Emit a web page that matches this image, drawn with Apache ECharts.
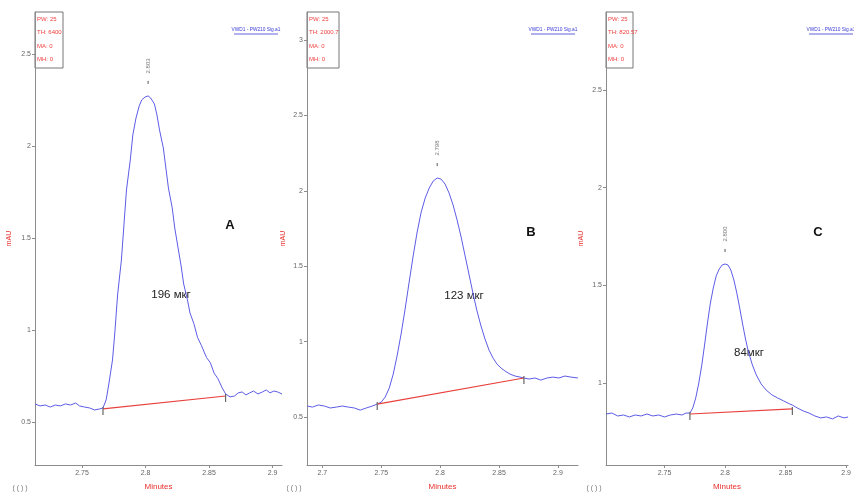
<!DOCTYPE html>
<html><head><meta charset="utf-8">
<script src="https://cdn.jsdelivr.net/npm/echarts@6/dist/echarts.min.js"></script>
<style>html,body{margin:0;padding:0;background:#fff}#c{width:854px;height:497px}</style>
</head><body><div id="c"></div>
<script>
// ---------- data (minutes, mAU) ----------
const traceA = [[2.713,0.598],[2.717,0.587],[2.721,0.592],[2.725,0.581],[2.729,0.592],[2.733,0.587],[2.737,0.598],[2.741,0.592],[2.745,0.603],[2.748,0.587],[2.752,0.581],[2.756,0.576],[2.760,0.565],[2.764,0.571],[2.7665,0.576],[2.769,0.620],[2.771,0.701],[2.774,0.837],[2.776,1.000],[2.778,1.190],[2.781,1.380],[2.783,1.571],[2.785,1.761],[2.788,1.924],[2.790,2.060],[2.7925,2.152],[2.795,2.217],[2.797,2.250],[2.7996,2.266],[2.802,2.272],[2.804,2.261],[2.807,2.228],[2.809,2.168],[2.811,2.087],[2.814,1.989],[2.816,1.880],[2.818,1.772],[2.821,1.663],[2.823,1.554],[2.8256,1.446],[2.828,1.348],[2.830,1.250],[2.833,1.163],[2.835,1.092],[2.838,1.035],[2.841,0.958],[2.844,0.915],[2.848,0.850],[2.851,0.822],[2.854,0.765],[2.857,0.735],[2.860,0.690],[2.863,0.652],[2.8665,0.636],[2.870,0.641],[2.873,0.658],[2.876,0.663],[2.879,0.647],[2.882,0.658],[2.885,0.668],[2.8885,0.652],[2.892,0.663],[2.895,0.674],[2.898,0.658],[2.901,0.668],[2.904,0.663],[2.9074,0.652]];
const traceB = [[2.6873,0.573],[2.6916,0.566],[2.6967,0.580],[2.7017,0.573],[2.7068,0.560],[2.7119,0.566],[2.7170,0.573],[2.7221,0.566],[2.7272,0.560],[2.7322,0.546],[2.7373,0.560],[2.7424,0.573],[2.7466,0.586],[2.7500,0.599],[2.7534,0.633],[2.7568,0.692],[2.7602,0.785],[2.7636,0.911],[2.7670,1.057],[2.7704,1.223],[2.7737,1.395],[2.7771,1.568],[2.7805,1.727],[2.7839,1.859],[2.7873,1.952],[2.7907,2.018],[2.7941,2.065],[2.7975,2.085],[2.8008,2.078],[2.8042,2.045],[2.8076,1.985],[2.8110,1.906],[2.8144,1.806],[2.8178,1.694],[2.8212,1.568],[2.8246,1.442],[2.8280,1.316],[2.8313,1.203],[2.8347,1.103],[2.8381,1.017],[2.8415,0.944],[2.8449,0.891],[2.8483,0.851],[2.8517,0.825],[2.8551,0.805],[2.8593,0.785],[2.8635,0.772],[2.8678,0.765],[2.8711,0.759],[2.8754,0.752],[2.8805,0.759],[2.8855,0.745],[2.8906,0.759],[2.8957,0.765],[2.9008,0.759],[2.9059,0.772],[2.9110,0.765],[2.9169,0.759]];
const traceC = [[2.7017,0.841],[2.7065,0.846],[2.7113,0.831],[2.7162,0.836],[2.7210,0.826],[2.7258,0.836],[2.7307,0.831],[2.7355,0.841],[2.7404,0.831],[2.7452,0.836],[2.7500,0.826],[2.7549,0.836],[2.7597,0.841],[2.7645,0.836],[2.7678,0.846],[2.7710,0.846],[2.7734,0.872],[2.7758,0.923],[2.7782,0.995],[2.7807,1.087],[2.7831,1.194],[2.7855,1.307],[2.7879,1.409],[2.7903,1.486],[2.7927,1.548],[2.7952,1.583],[2.7976,1.604],[2.8000,1.609],[2.8024,1.604],[2.8048,1.578],[2.8073,1.527],[2.8097,1.461],[2.8121,1.384],[2.8145,1.302],[2.8169,1.225],[2.8193,1.159],[2.8226,1.092],[2.8258,1.041],[2.8298,0.995],[2.8339,0.964],[2.8387,0.939],[2.8435,0.923],[2.8484,0.908],[2.8532,0.893],[2.8556,0.887],[2.8596,0.872],[2.8645,0.857],[2.8693,0.846],[2.8742,0.831],[2.8790,0.821],[2.8838,0.826],[2.8887,0.816],[2.8935,0.831],[2.8983,0.821],[2.9016,0.826]];
const baseA = [[2.7665,0.571],[2.863,0.641]];
const baseB = [[2.7466,0.586],[2.8711,0.759]];
const baseC = [[2.7710,0.841],[2.8556,0.867]];
const apexA = [2.802,2.272], apexB = [2.7975,2.085], apexC = [2.8000,1.609];
const rtLabels = ['2.803','2.798','2.800'];
const xTicksA = [2.75,2.8,2.85,2.9];
const yTicksA = [0.5,1,1.5,2,2.5];
const xTicksB = [2.7,2.75,2.8,2.85,2.9];
const yTicksB = [0.5,1,1.5,2,2.5,3];
const xTicksC = [2.75,2.8,2.85,2.9];
const yTicksC = [1,1.5,2,2.5];
const amounts = ['196 мкг','123 мкг','84мкг'];
const panelLetters = ['A','B','C'];
const infoA = ['PW: 25','TH: 6400','MA: 0','MH: 0'];
const infoB = ['PW: 25','TH: 2000.7','MA: 0','MH: 0'];
const infoC = ['PW: 25','TH: 820.57','MA: 0','MH: 0'];
const signalName = 'VWD1 - PW210 Sig.a1';

// ---------- layout ----------
const FONT = 'Liberation Sans';
const grids = [
  {left:35, top:12, width:247, height:453},
  {left:307, top:12, width:271, height:453},
  {left:606, top:12, width:248, height:453}
];
const xr = [[2.713,2.9074],[2.687,2.917],[2.7017,2.9016]];
const yr = [[0.266,2.728],[0.182,3.186],[0.58,2.899]];
const xT = [xTicksA,xTicksB,xTicksC], yT = [yTicksA,yTicksB,yTicksC];
const yNameGap = [22,20,21];

const axCol = '#8c8c8c';
const xAxis = grids.map((g,i)=>({
  type:'value', gridIndex:i, min:xr[i][0], max:xr[i][1],
  name:'Minutes', nameLocation:'middle', nameGap:18,
  nameTextStyle:{color:'#e8302c', fontSize:8, fontFamily:FONT},
  axisLine:{onZero:false, lineStyle:{color:axCol, width:1}},
  axisTick:{customValues:xT[i], length:3, lineStyle:{color:axCol}},
  axisLabel:{customValues:xT[i], fontSize:7, color:'#666', margin:5, fontFamily:FONT},
  splitLine:{show:false}
}));
const yAxis = grids.map((g,i)=>({
  type:'value', gridIndex:i, min:yr[i][0], max:yr[i][1],
  name:'mAU', nameLocation:'middle', nameGap:yNameGap[i],
  nameTextStyle:{color:'#e8302c', fontSize:7, fontFamily:FONT},
  axisLine:{onZero:false, lineStyle:{color:axCol, width:1}},
  axisTick:{customValues:yT[i], length:3, lineStyle:{color:axCol}},
  axisLabel:{customValues:yT[i], fontSize:7, color:'#666', margin:4, fontFamily:FONT},
  splitLine:{show:false}
}));

const traces = [traceA,traceB,traceC], bases = [baseA,baseB,baseC];
const series = [];
traces.forEach((d,i)=>{
  series.push({type:'line', xAxisIndex:i, yAxisIndex:i, data:d, showSymbol:false, symbol:'none',
    lineStyle:{color:'#5d5ce6', width:1}, silent:true, z:3});
  series.push({type:'line', xAxisIndex:i, yAxisIndex:i, data:bases[i], symbol:'rect', symbolSize:[1.2,8],
    showSymbol:true, symbolOffset:[0,2], itemStyle:{color:'#666'},
    lineStyle:{color:'#e8403c', width:1.2}, silent:true, z:4});
});

const graphic = [];
const infos = [infoA,infoB,infoC];
const boxW = [28,32,27];
grids.forEach((g,i)=>{
  const kids = [{type:'rect', shape:{x:0,y:0,width:boxW[i],height:56}, style:{fill:'#fff', stroke:'#777', lineWidth:1}}];
  infos[i].forEach((t,k)=>kids.push({type:'text', x:2, y:4+k*13.5, style:{text:t, fill:'#f04040', fontSize:6, fontFamily:FONT}}));
  graphic.push({type:'group', x:g.left, y:g.top, children:kids, z:10});
});
const sigX = [256,553,831];
sigX.forEach(x=>{
  graphic.push({type:'text', x:x, y:30, style:{text:signalName, fill:'#3b3bd6', fontSize:4.8, fontFamily:FONT, align:'center', verticalAlign:'middle'}});
  graphic.push({type:'line', shape:{x1:x-22,y1:34,x2:x+22,y2:34}, style:{stroke:'#3b3bd6', lineWidth:0.8}});
});
const letterPos = [[230,225],[531,232],[818,232]];
letterPos.forEach((p,i)=>graphic.push({type:'text', x:p[0], y:p[1], style:{text:panelLetters[i], fill:'#111', fontSize:13, fontWeight:'bold', fontFamily:FONT, align:'center', verticalAlign:'middle'}}));
const amtPos = [[171,295],[464,296],[749,353]];
amtPos.forEach((p,i)=>graphic.push({type:'text', x:p[0], y:p[1], style:{text:amounts[i], fill:'#222', fontSize:11.5, fontFamily:FONT, align:'center', verticalAlign:'middle'}}));
const navPos = [[20,488],[294,488],[594,488]];
navPos.forEach(p=>graphic.push({type:'text', x:p[0], y:p[1], style:{text:'( ( ) )', fill:'#777', fontSize:7, fontFamily:FONT, align:'center', verticalAlign:'middle'}}));

const chart = echarts.init(document.getElementById('c'), null, {renderer:'canvas'});
chart.setOption({animation:false, backgroundColor:'#fff', grid:grids, xAxis, yAxis, series, graphic});

// retention-time labels above apexes, placed through the axes' scales
const apexes = [apexA,apexB,apexC];
const extra = [];
apexes.forEach((a,i)=>{
  const p = chart.convertToPixel({gridIndex:i}, a);
  extra.push({type:'text', x:p[0], y:p[1]-30, rotation:Math.PI/2, style:{text:rtLabels[i], fill:'#777', fontSize:6, fontFamily:FONT, align:'center', verticalAlign:'middle'}});
  extra.push({type:'line', shape:{x1:p[0],y1:p[1]-15,x2:p[0],y2:p[1]-12}, style:{stroke:'#555', lineWidth:1}});
});
chart.setOption({graphic: graphic.concat(extra)});
</script></body></html>
